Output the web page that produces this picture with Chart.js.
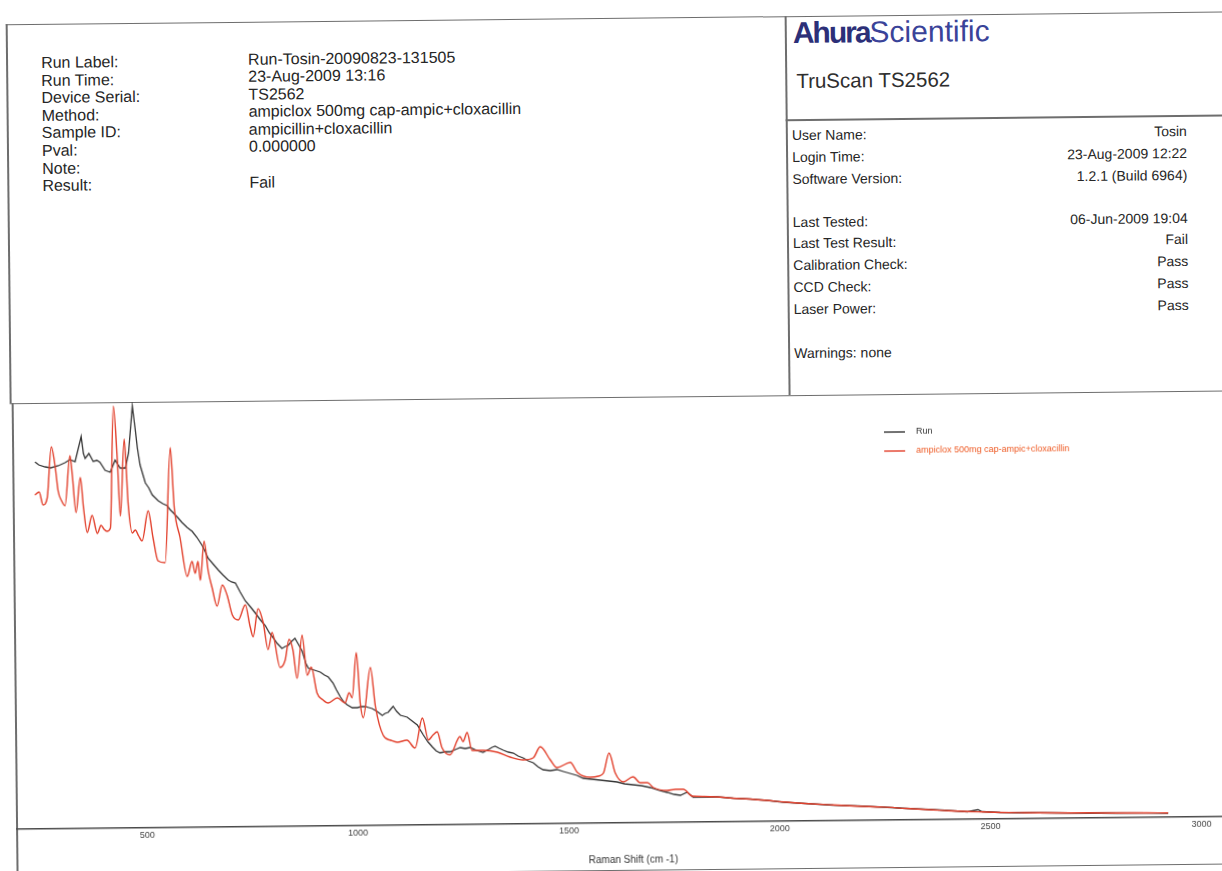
<!DOCTYPE html>
<html>
<head>
<meta charset="utf-8">
<script src="https://cdn.jsdelivr.net/npm/chart.js@4.4.1/dist/chart.umd.min.js"></script>
<style>
html,body{margin:0;padding:0;background:#fff;overflow:hidden;width:1222px;height:871px;}
#page{position:absolute;left:0;top:0;width:1222px;height:871px;transform:rotate(-0.6deg);transform-origin:611px 435px;font-family:"Liberation Sans",Arial,sans-serif;color:#262626;}
.ln{position:absolute;background:#6e6e6e;}
.t{position:absolute;white-space:nowrap;}
.lbl{font-size:16px;line-height:17.6px;}
.r{font-size:14px;line-height:16px;}
.rv{font-size:14px;line-height:16px;text-align:right;width:300px;}
</style>
</head>
<body>
<div id="page">
  <!-- frame lines -->
  <div class="ln" style="left:10px;top:17.5px;width:1240px;height:1.5px;"></div>
  <div class="ln" style="left:10px;top:18px;width:1.5px;height:379px;"></div>
  <div class="ln" style="left:789px;top:18px;width:1.5px;height:379px;"></div>
  <div class="ln" style="left:789px;top:121px;width:460px;height:1.5px;"></div>
  <div class="ln" style="left:10px;top:396.5px;width:1240px;height:1.5px;"></div>
  <div class="ln" style="left:12px;top:397px;width:1.5px;height:480px;"></div>
  <div class="ln" style="left:0px;top:869.5px;width:1250px;height:1.5px;"></div>

  <!-- left info block -->
  <div class="t lbl" style="left:45px;top:48px;">Run Label:<br>Run Time:<br>Device Serial:<br>Method:<br>Sample ID:<br>Pval:<br>Note:<br>Result:</div>
  <div class="t lbl" style="left:252px;top:46.5px;">Run-Tosin-20090823-131505<br>23-Aug-2009 13:16<br>TS2562<br>ampiclox 500mg cap-ampic+cloxacillin<br>ampicillin+cloxacillin<br>0.000000<br><br>Fail</div>

  <!-- right panel -->
  <div class="t" style="left:797px;top:19.5px;font-size:30px;line-height:30px;"><span style="font-weight:bold;letter-spacing:-2px;color:#2c2f78;">Ahura</span><span style="color:#3a4399;">Scientific</span></div>
  <div class="t" style="left:800px;top:72px;font-size:20.5px;line-height:21px;color:#2e2e2e;">TruScan TS2562</div>

  <div class="t r" style="left:795px;top:129px;">User Name:</div>
  <div class="t r" style="left:795px;top:151px;">Login Time:</div>
  <div class="t r" style="left:795px;top:172.5px;">Software Version:</div>
  <div class="t r" style="left:795px;top:215.5px;">Last Tested:</div>
  <div class="t r" style="left:795px;top:237px;">Last Test Result:</div>
  <div class="t r" style="left:795px;top:259px;">Calibration Check:</div>
  <div class="t r" style="left:795px;top:281px;">CCD Check:</div>
  <div class="t r" style="left:795px;top:303px;">Laser Power:</div>
  <div class="t r" style="left:795px;top:347px;">Warnings: none</div>

  <div class="t rv" style="left:890px;top:129px;">Tosin</div>
  <div class="t rv" style="left:890px;top:151px;">23-Aug-2009 12:22</div>
  <div class="t rv" style="left:890px;top:172.5px;">1.2.1 (Build 6964)</div>
  <div class="t rv" style="left:890px;top:215.5px;">06-Jun-2009 19:04</div>
  <div class="t rv" style="left:890px;top:237px;">Fail</div>
  <div class="t rv" style="left:890px;top:259px;">Pass</div>
  <div class="t rv" style="left:890px;top:281px;">Pass</div>
  <div class="t rv" style="left:890px;top:303px;">Pass</div>

  <canvas id="c" width="1215" height="475" style="position:absolute;left:12px;top:397px;width:1215px;height:475px;"></canvas>
</div>

<script>
// ---- data (Raman shift in cm-1, intensity in arbitrary units) ----
const seriesNames = ['Run', 'ampiclox 500mg cap-ampic+cloxacillin'];
const axisTitle = 'Raman Shift (cm -1)';
const xTicks = [500, 1000, 1500, 2000, 2500, 3000];

const runShift = [243,252,267,280,298,314,326,338,353,358,362,371,381,390,397,409,421,433,445,457,465,475,481,486,492,504,512,520,527,534,545,555,562,569,580,590,602,614,625,637,644,651,663,675,686,698,706,715,726,738,750,761,773,785,794,803,813,824,832,839,847,855,863,872,880,886,900,914,924,933,944,952,961,969,977,989,1001,1010,1020,1028,1036,1048,1060,1067,1074,1080,1086,1094,1103,1111,1119,1131,1143,1150,1157,1168,1178,1187,1196,1208,1220,1232,1244,1256,1268,1283,1298,1312,1320,1327,1336,1346,1358,1370,1381,1393,1405,1417,1428,1440,1457,1473,1488,1504,1520,1535,1555,1575,1595,1615,1633,1653,1673,1694,1715,1734,1750,1765,1781,1795,1822,1852,1890,1930,1970,2009,2060,2127,2185,2246,2300,2364,2400,2445,2470,2480,2523,2580,2650,2720,2800,2870,2921];
const runIntensity = [367,364,362,361,363,366,369,367,392,375,370,375,367,368,366,358,356,368,360,360,375,422,400,380,363,345,340,333,330,327,324,322,318,315,310,305,300,296,290,282,276,269,263,257,252,247,245,244,235,226,220,214,207,201,194,189,183,178,180,181,185,188,182,175,163,158,156,154,151,149,143,136,129,124,121,118,118,119,119,118,117,114,110,112,113,116,119,114,110,109,108,104,100,95,90,83,78,74,72,73,73,75,77,76,77,74,72,75,77,78,76,74,72,71,68,66,63,61,57,54,53,54,52,50,48,45,44,43,42,41,39,38,37,35,32,30,28,27,30,25,25,25,23.5,22.5,21,19,17.5,15.5,14.5,13,11.5,10,9,7.5,9.5,7.5,6.5,6,5.5,5,4.5,4.3,4];

const refShift = [242,252,261,271,282,291,297,305,313,326,331,339,350,357,365,377,389,398,405,412,420,430,438,444,455,463,472,479,487,495,510,521,532,549,564,572,585,601,613,620,627,632,642,651,660,671,684,695,707,721,738,749,756,768,780,791,801,819,831,841,850,859,872,883,893,906,920,932,954,972,982,989,1000,1008,1015,1033,1044,1062,1080,1095,1118,1137,1155,1169,1180,1190,1201,1220,1244,1251,1261,1272,1298,1332,1362,1393,1417,1434,1457,1473,1505,1521,1551,1571,1583,1597,1611,1630,1653,1670,1687,1701,1734,1753,1772,1793,1822,1852,1890,1930,1970,2009,2060,2127,2185,2246,2300,2364,2400,2445,2480,2523,2580,2650,2720,2800,2870,2921];
const refIntensity = [334,337,324,331,382,361,338,328,323,373,354,316,351,320,296,313,295,303,299,297,300,422,370,312,389,323,295,298,292,287,317,290,267,265,380,320,290,251,266,254,266,247,286,256,239,221,242,232,212,207,222,200,190,218,204,177,194,159,166,187,176,148,191,151,159,133,126,123,128,123,133,128,173,123,108,158,119,90,85,83,85,77,107,85,90,93,77,70,88,83,92,74,74,72,67,64,66,77,64,56,61,51,46,47,50,70,50,41,46,40,40,35,32,33,33,26,25.5,25,23.5,22.5,21,19.2,17.5,15.7,14.3,13.1,11.5,9.8,8.8,7.8,7.2,6.5,6,5.5,5.2,4.8,4.5,4.3];

const toPoints = (xs, ys) => xs.map((x, i) => ({x: x, y: ys[i]}));
const FONT = '"Liberation Sans", Arial, sans-serif';
const legendTextColors = ['#333333', '#ee5a24'];

const refLegend = {
  id: 'refLegend',
  afterDraw(chart) {
    const ctx = chart.ctx;
    ctx.save();
    chart.data.datasets.forEach((ds, i) => {
      const y = 38 + i * 19;
      ctx.strokeStyle = ds.borderColor;
      ctx.lineWidth = 1.4;
      ctx.beginPath(); ctx.moveTo(872, y); ctx.lineTo(893, y); ctx.stroke();
      ctx.fillStyle = legendTextColors[i];
      ctx.font = '9px ' + FONT;
      ctx.textBaseline = 'middle';
      ctx.textAlign = 'left';
      ctx.fillText(ds.label, 904, y);
    });
    ctx.fillStyle = '#333';
    ctx.font = '10px ' + FONT;
    ctx.textAlign = 'center';
    ctx.textBaseline = 'middle';
    ctx.fillText(axisTitle, 617, 463);
    ctx.restore();
  }
};

new Chart(document.getElementById('c'), {
  type: 'line',
  data: {
    datasets: [
      {label: seriesNames[0], data: toPoints(runShift, runIntensity), borderColor: '#363636', borderWidth: 1.3, pointRadius: 0, tension: 0, order: 1},
      {label: seriesNames[1], data: toPoints(refShift, refIntensity), borderColor: '#e2402c', borderWidth: 1.4, pointRadius: 0, cubicInterpolationMode: 'monotone', order: 0}
    ]
  },
  options: {
    responsive: false,
    animation: false,
    devicePixelRatio: 1,
    layout: {padding: 0},
    plugins: {legend: {display: false}, tooltip: {enabled: false}},
    scales: {
      x: {
        type: 'linear', min: 189, max: 3070,
        grid: {display: false, drawTicks: false, tickLength: 0},
        border: {display: true, color: '#4a4a4a', width: 1.5},
        ticks: {includeBounds: false, padding: 2, color: '#444', font: {family: FONT, size: 9}, maxRotation: 0, autoSkip: false, callback: v => String(v)},
        afterBuildTicks: s => { s.ticks = xTicks.map(v => ({value: v})); },
        afterFit: s => { s.height = 49; }
      },
      y: {display: false, min: 0, max: 426}
    }
  },
  plugins: [refLegend]
});
</script>
</body>
</html>
